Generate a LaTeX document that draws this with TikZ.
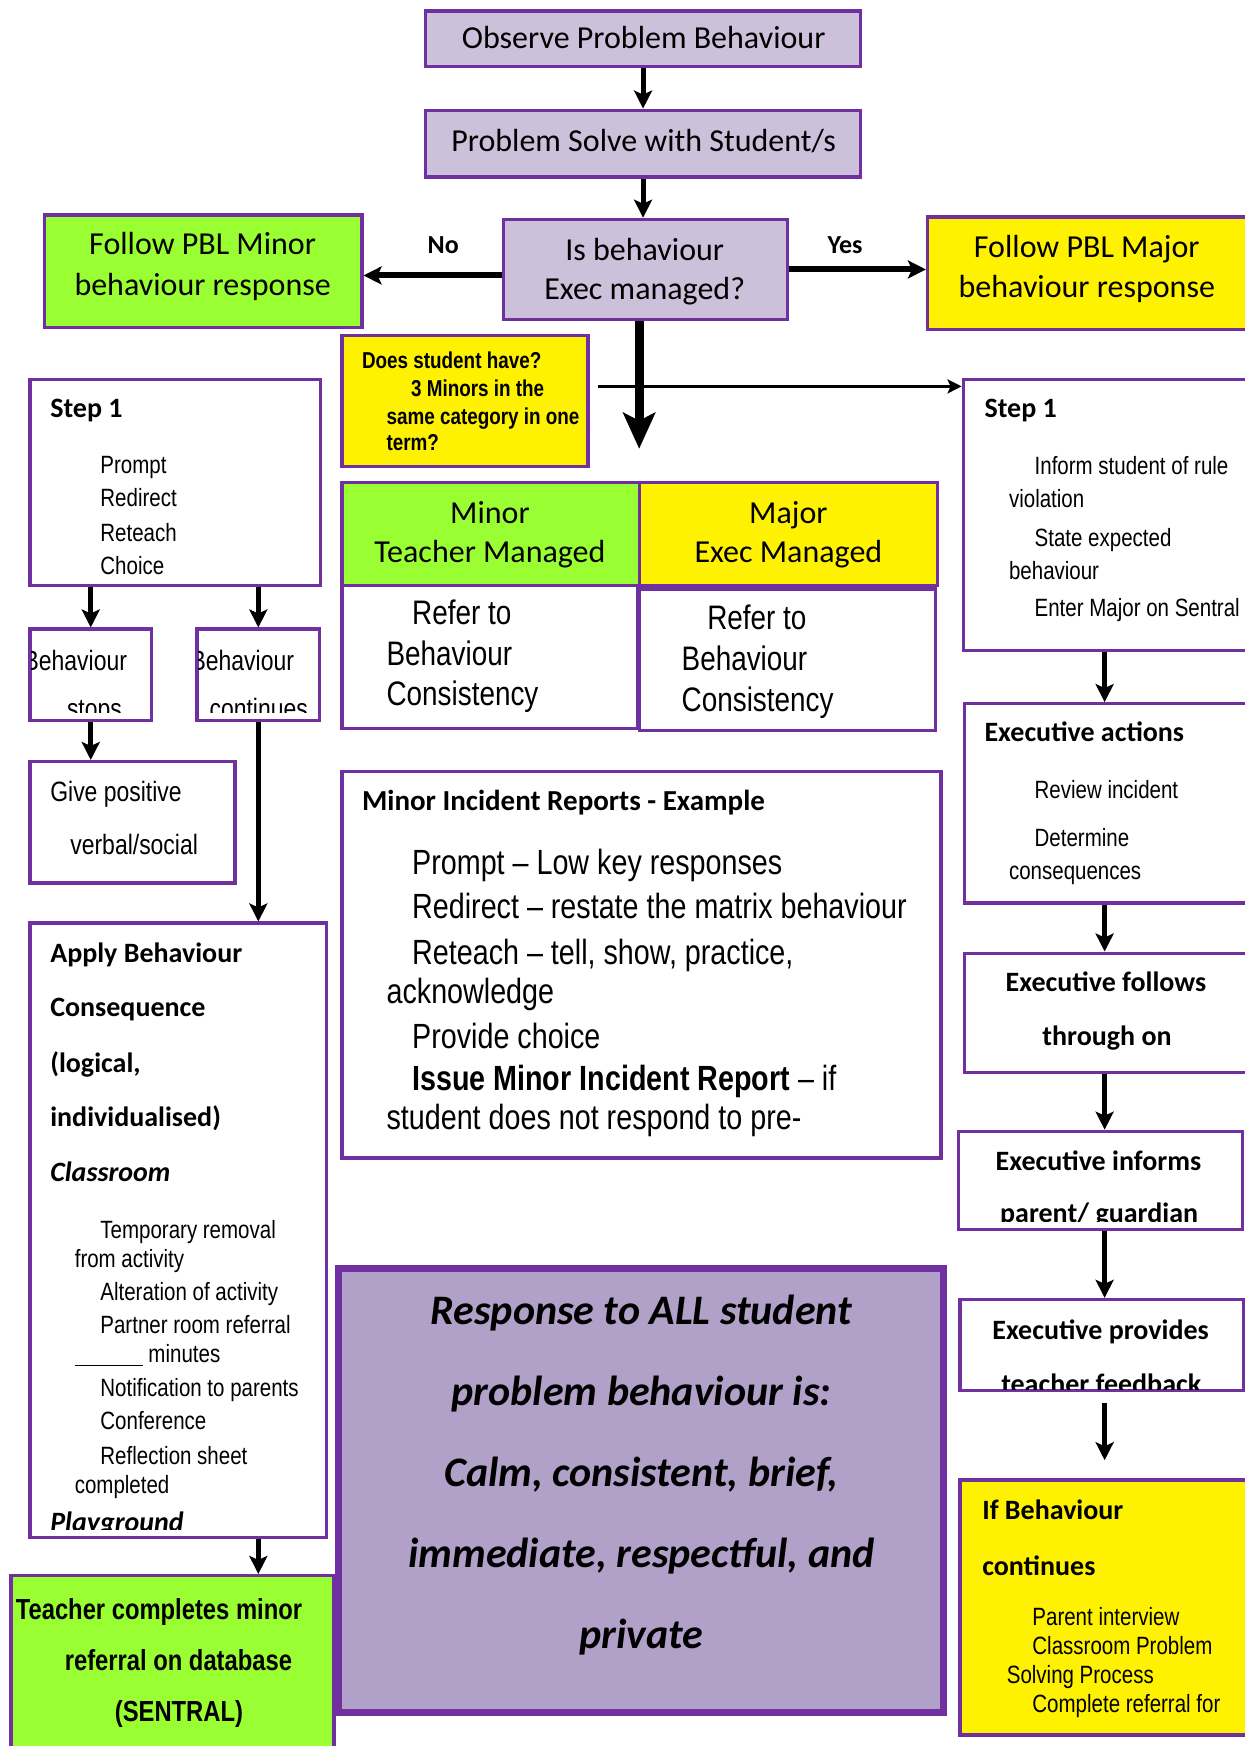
\documentclass[tikz,border=0pt]{standalone}
\usepackage{fontspec}
\setmainfont{Carlito}
\newfontfamily\arialn[FakeStretch=0.82]{Liberation Sans}
\usetikzlibrary{arrows.meta,fit}
\definecolor{plum}{HTML}{7030A0}
\definecolor{lilac}{HTML}{CCC0DA}
\definecolor{leaf}{HTML}{99FF33}
\definecolor{calmfill}{HTML}{B1A0C7}

\begin{document}
\begin{tikzpicture}[
  x=1.1136pt, y=-1.1136pt,
  box/.style={draw=plum, line width=3.3pt, inner sep=0pt},
  txt/.style={inner sep=0pt, anchor=mid west, yshift=-6.5pt},
  ctr/.style={inner sep=0pt, anchor=mid, yshift=-6.5pt},
  big/.style={font=\fontsize{32}{39}\selectfont},
  head/.style={font=\bfseries\fontsize{28}{34}\selectfont},
  item/.style={font=\arialn\fontsize{25}{30}\selectfont},
  mid/.style={font=\arialn\fontsize{28}{34}\selectfont},
  large/.style={font=\arialn\fontsize{34}{40}\selectfont},
  flow/.style={line width=5pt, -{Stealth[length=18pt,width=18pt,inset=4pt]}},
  bigflow/.style={line width=9pt, -{Stealth[length=36pt,width=32pt,inset=8pt]}},
  thinflow/.style={line width=3pt, -{Stealth[length=14pt,width=14pt,inset=3pt]}},
]
\useasboundingbox (0,0) rectangle (1118,1568);

\node[box, fill=lilac, fit={(382,10) (773,60)}] (observe) {};
\node[ctr, big] (observe-t) at (578,36) {Observe Problem Behaviour};
\node[box, fill=lilac, fit={(382,99) (773,159)}] (solve) {};
\node[ctr, big] (solve-t) at (578,128) {Problem Solve with Student/s};
\node[box, fill=lilac, fit={(452,197) (707,287)}] (decide) {};
\node[ctr, big] (decide-1) at (579,226) {Is behaviour};
\node[ctr, big] (decide-2) at (579,261) {Exec managed?};
\node[box, fill=leaf, fit={(40,193) (325,294)}] (minorpbl) {};
\node[ctr, big] (minorpbl-1) at (182,221) {Follow PBL Minor};
\node[ctr, big] (minorpbl-2) at (182,257) {behaviour response};
\node[box, fill=yellow, fit={(833,195) (1125,296)}] (majorpbl) {};
\node[ctr, big] (majorpbl-1) at (976,223) {Follow PBL Major};
\node[ctr, big] (majorpbl-2) at (976,259) {behaviour response};
\node[font=\bfseries\fontsize{26}{30}\selectfont] (no) at (398,220) {No};
\node[font=\bfseries\fontsize{26}{30}\selectfont] (yes) at (759,220) {Yes};

\node[box, fill=yellow, fit={(307,301) (528,419)}] (query) {};
\begin{scope}
\clip ([shift={(3.3pt,-3.3pt)}]query.north west) rectangle ([shift={(-3.3pt,3.3pt)}]query.south east);
\foreach[count=\i] \x/\y/\t in {325/323/Does student have?, 369/348/3 Minors in the, 347/373/same category in one, 347/397/term?}
  \node[txt, font=\arialn\bfseries\fontsize{23}{28}\selectfont] (query-\i) at (\x,\y) {\t};
\end{scope}

\node[box, fit={(27,341) (288,526)}] (stepL) {};
\node[txt, head] (stepL-t) at (45,367) {Step 1};
\foreach[count=\i] \y/\t in {417/Prompt, 447/Redirect, 478/Reteach, 508/Choice}
  \node[txt, item] (stepL-\i) at (90,\y) {\t};

\node[box, fill=leaf, fit={(307,433) (574,526)}] (minorhead) {};
\node[ctr, big] (minorhead-1) at (440,462) {Minor};
\node[ctr, big] (minorhead-2) at (440,497) {Teacher Managed};
\node[box, fill=yellow, fit={(574,433) (842,526)}] (majorhead) {};
\node[ctr, big] (majorhead-1) at (708,462) {Major};
\node[ctr, big] (majorhead-2) at (708,497) {Exec Managed};
\node[box, fit={(307,526) (573,654)}] (minorref) {};
\node[box, fit={(574,529) (840,656)}] (majorref) {};
\foreach[count=\i] \x/\y/\t in {370/553/Refer to, 347/590/Behaviour, 347/626/Consistency}
  \node[txt, large] (minorref-\i) at (\x,\y) {\t};
\foreach[count=\i] \x/\y/\t in {635/557/Refer to, 612/594/Behaviour, 612/631/Consistency}
  \node[txt, large] (majorref-\i) at (\x,\y) {\t};

\node[box, fit={(865,341) (1125,584)}] (stepR) {};
\node[txt, head] (stepR-t) at (884,367) {Step 1};
\foreach[count=\i] \x/\y/\t in {929/418/Inform student of rule, 906/448/violation, 929/483/State expected, 906/512/behaviour, 929/546/Enter Major on Sentral}
  \node[txt, item] (stepR-\i) at (\x,\y) {\t};

\node[box, fit={(27,565) (136,647)}] (stops) {};
\begin{scope}
\clip ([shift={(3.3pt,-3.3pt)}]stops.north west) rectangle ([shift={(-3.3pt,10pt)}]stops.south east);
\node[txt, mid] (stops-1) at (21,594) {Behaviour};
\node[txt, mid] (stops-2) at (60,637) {stops};
\end{scope}
\node[box, fit={(177,565) (287,647)}] (cont) {};
\begin{scope}
\clip ([shift={(3.3pt,-3.3pt)}]cont.north west) rectangle ([shift={(-3.3pt,10pt)}]cont.south east);
\node[txt, mid] (cont-1) at (171,594) {Behaviour};
\node[txt, mid] (cont-2) at (188,637) {continues};
\end{scope}

\node[box, fit={(27,684) (211,793)}] (praise) {};
\node[txt, mid] (praise-1) at (45,712) {Give positive};
\node[txt, mid] (praise-2) at (63,759) {verbal/social};

\node[box, fit={(307,693) (845,1040)}] (report) {};
\node[txt, font=\bfseries\fontsize{29}{34}\selectfont] (report-t) at (325,720) {Minor Incident Reports - Example};
\foreach[count=\i] \x/\y/\t in {370/777/Prompt – Low key responses, 370/817/Redirect – restate the matrix behaviour, 370/858/{Reteach – tell, show, practice,}, 347/893/acknowledge, 370/934/Provide choice, 370/971/{\textbf{Issue Minor Incident Report} – if}, 347/1006/student does not respond to pre-}
  \node[txt, font=\arialn\fontsize{35}{40}\selectfont] (report-\i) at (\x,\y) {\t};

\node[box, fit={(866,632) (1125,811)}] (actions) {};
\node[txt, head] (actions-t) at (884,658) {Executive actions};
\foreach[count=\i] \x/\y/\t in {929/709/Review incident, 929/752/Determine, 906/782/consequences}
  \node[txt, item] (actions-\i) at (\x,\y) {\t};

\node[box, fit={(866,856) (1125,963)}] (follows) {};
\node[txt, head] (follows-1) at (903,882) {Executive follows};
\node[txt, head] (follows-2) at (936,931) {through on};

\node[box, fit={(861,1016) (1116,1104)}] (informs) {};
\begin{scope}
\clip ([shift={(3.3pt,-3.3pt)}]informs.north west) rectangle ([shift={(-3.3pt,9pt)}]informs.south east);
\node[txt, head] (informs-1) at (894,1043) {Executive informs};
\node[txt, head] (informs-2) at (898,1090) {parent/ guardian};
\end{scope}

\node[box, fit={(862,1167) (1117,1249)}] (provides) {};
\begin{scope}
\clip ([shift={(3.3pt,-3.3pt)}]provides.north west) rectangle ([shift={(-3.3pt,3.3pt)}]provides.south east);
\node[txt, head] (provides-1) at (891,1195) {Executive provides};
\node[txt, head] (provides-2) at (899,1243) {teacher feedback};
\end{scope}

\node[box, fill=yellow, fit={(862,1329) (1125,1558)}] (further) {};
\begin{scope}
\clip ([shift={(3.3pt,-3.3pt)}]further.north west) rectangle ([shift={(-3.3pt,3.3pt)}]further.south east);
\node[txt, head] (further-t1) at (882,1357) {If Behaviour};
\node[txt, head] (further-t2) at (882,1407) {continues};
\foreach[count=\i] \x/\y/\t in {927/1452/Parent interview, 927/1478/Classroom Problem, 904/1504/Solving Process, 927/1530/Complete referral for}
  \node[txt, item] (further-\i) at (\x,\y) {\t};
\end{scope}

\node[box, fit={(27,829) (293,1381)}] (apply) {};
\begin{scope}
\clip ([shift={(3.3pt,-3.3pt)}]apply.north west) rectangle ([shift={(-3.3pt,10pt)}]apply.south east);
\foreach[count=\i] \y/\t in {856/Apply Behaviour, 905/Consequence, 955/{(logical,}, 1004/individualised), 1053/\itshape Classroom, 1367/\itshape Playground}
  \node[txt, head] (apply-t\i) at (45,\y) {\t};
\foreach[count=\i] \x/\y/\t in {90/1104/Temporary removal, 67/1130/from activity, 90/1160/Alteration of activity, 90/1190/Partner room referral, 67/1216/{\rule[-3pt]{68pt}{1.4pt} minutes}, 90/1246/Notification to parents, 90/1276/Conference, 90/1307/Reflection sheet, 67/1333/completed}
  \node[txt, item] (apply-\i) at (\x,\y) {\t};
\end{scope}

\node[box, fill=leaf, fit={(10,1415) (300,1585)}] (teacher) {};
\foreach[count=\i] \x/\y/\t in {14/1446/Teacher completes minor, 58/1492/referral on database, 103/1538/(SENTRAL)}
  \node[txt, font=\arialn\bfseries\fontsize{29}{34}\selectfont] (teacher-\i) at (\x,\y) {\t};

\node[box, line width=7pt, fill=calmfill, fit={(304,1139) (847,1538)}] (calm) {};
\node[font=\bfseries\itshape\fontsize{42}{81}\selectfont, align=center] (calmtext) at (576,1325) {Response to ALL student\\problem behaviour is:\\Calm, consistent, brief,\\immediate, respectful, and\\private};

\coordinate (drop) at (574,403);
\coordinate (qout) at (537,347);
\coordinate (col) at (992,0);
\draw[flow] (observe.south) -- (observe.south |- solve.north);
\draw[flow] (solve.south) -- (solve.south |- decide.north);
\draw[flow, line width=6pt] ([yshift=-6pt]decide.west) -- ([yshift=-6pt]minorpbl.east |- decide.west);
\draw[flow, line width=6pt] (decide.east) -- (majorpbl.west |- decide.east);
\draw[bigflow] (decide.south -| drop) -- (drop);
\draw[thinflow] (qout) -- (qout -| stepR.west);
\draw[flow] (stops.north |- stepL.south) -- (stops.north);
\draw[flow] (cont.north |- stepL.south) -- (cont.north);
\draw[flow] (stops.south) -- (stops.south |- praise.north);
\draw[flow] (cont.south) -- (cont.south |- apply.north);
\draw[flow] (apply.south -| cont) -- (teacher.north -| cont);
\draw[flow] (stepR.south -| col) -- (actions.north -| col);
\draw[flow] (actions.south -| col) -- (follows.north -| col);
\draw[flow] (follows.south -| col) -- (informs.north -| col);
\draw[flow] (informs.south -| col) -- (provides.north -| col);
\draw[flow, shorten <=11pt, shorten >=18pt] (provides.south -| col) -- (further.north -| col);
\end{tikzpicture}
\end{document}
